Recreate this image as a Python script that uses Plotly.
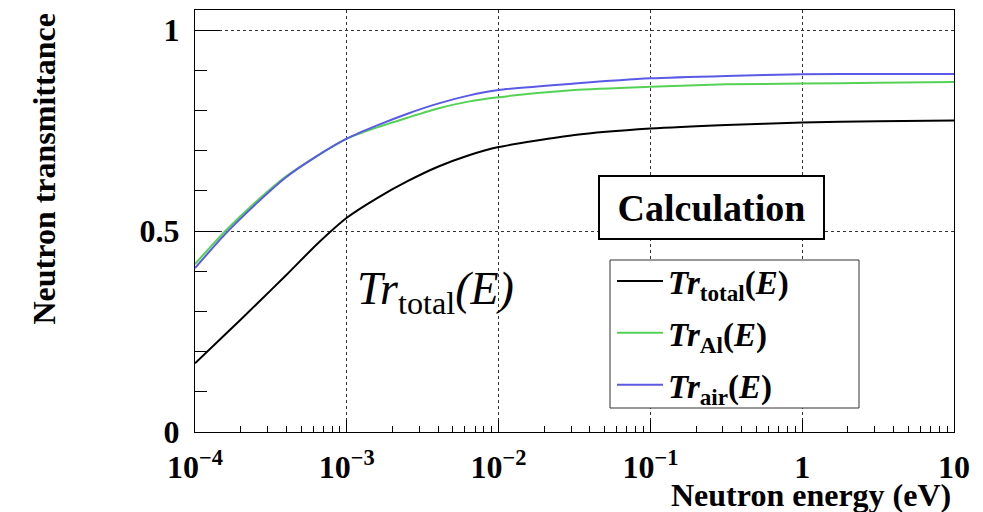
import plotly.graph_objects as go

# ---------------- data ----------------
energy_eV = [1e-4, 1.585e-4, 2.512e-4, 3.981e-4, 6.310e-4, 1e-3, 1.585e-3, 2.512e-3,
             3.981e-3, 6.310e-3, 1e-2, 3.162e-2, 1e-1, 3.162e-1, 1.0, 3.162, 10.0]
tr_total = [0.171, 0.243, 0.316, 0.390, 0.466, 0.533, 0.582, 0.624, 0.660, 0.688,
            0.709, 0.739, 0.755, 0.764, 0.770, 0.773, 0.775]
tr_al = [0.418, 0.500, 0.572, 0.636, 0.686, 0.730, 0.758, 0.782, 0.805, 0.822,
         0.833, 0.851, 0.859, 0.865, 0.867, 0.869, 0.871]
tr_air = [0.408, 0.493, 0.567, 0.634, 0.686, 0.730, 0.763, 0.792, 0.817, 0.837,
          0.851, 0.867, 0.880, 0.886, 0.890, 0.891, 0.891]

series_names = ["<b><i>Tr</i><sub>total</sub>(<i>E</i>)</b>",
                "<b><i>Tr</i><sub>Al</sub>(<i>E</i>)</b>",
                "<b><i>Tr</i><sub>air</sub>(<i>E</i>)</b>"]
series_colors = ["#000000", "#55d255", "#5a5ae6"]

x_tickvals = [1e-4, 1e-3, 1e-2, 1e-1, 1, 10]
x_ticktext = ["10<sup>−4</sup>", "10<sup>−3</sup>", "10<sup>−2</sup>",
              "10<sup>−1</sup>", "1", "10"]
x_minor = [m * 10.0 ** d for d in range(-4, 1) for m in range(2, 10)]
y_tickvals = [0, 0.5, 1]
y_ticktext = ["0", "0.5", "1"]
y_minor = [0.1, 0.2, 0.3, 0.4, 0.6, 0.7, 0.8, 0.9]

FONT = "Liberation Serif, Times New Roman, serif"

# plot area in pixels
L, R, T, B = 195, 954, 10, 432
W, H = 983, 512


def px(xp):
    return (xp - L) / (R - L)


def py(yp):
    return (B - yp) / (B - T)


fig = go.Figure()
for ys, name, col in zip([tr_total, tr_al, tr_air], series_names, series_colors):
    fig.add_trace(go.Scatter(x=energy_eV, y=ys, mode="lines", name=name,
                             line=dict(color=col, width=2, shape="spline", smoothing=0.6),
                             legendgroup=name))

fig.update_layout(
    width=W, height=H,
    margin=dict(l=L, r=W - R, t=T, b=H - B),
    plot_bgcolor="white", paper_bgcolor="white",
    font=dict(family=FONT, color="black"),
    showlegend=True,
    legend=dict(x=px(612), y=py(253), xanchor="left", yanchor="top",
                bgcolor="rgba(0,0,0,0)", borderwidth=0,
                font=dict(family=FONT, size=33, color="black"),
                itemwidth=46, tracegroupgap=6, traceorder="grouped"),
)

fig.update_xaxes(
    type="log", range=[-4, 1],
    tickmode="array", tickvals=x_tickvals, ticktext=x_ticktext,
    ticks="inside", ticklen=12, tickwidth=1, tickcolor="black",
    tickfont=dict(family=FONT, size=32, color="black", weight="bold"),
    ticklabelstandoff=7,
    showgrid=True, gridcolor="#333333", griddash="dot", gridwidth=1,
    minor=dict(tickmode="array", tickvals=x_minor, ticks="inside", ticklen=6,
               tickcolor="black", showgrid=False),
    showline=True, linecolor="black", linewidth=1, mirror=True,
    zeroline=False,
)
fig.update_yaxes(
    range=[0, 1.05],
    tickmode="array", tickvals=y_tickvals, ticktext=y_ticktext,
    ticks="inside", ticklen=25, tickwidth=1, tickcolor="black",
    tickfont=dict(family=FONT, size=32, color="black", weight="bold"),
    ticklabelstandoff=8,
    showgrid=True, gridcolor="#333333", griddash="dot", gridwidth=1,
    minor=dict(tickmode="array", tickvals=y_minor, ticks="inside", ticklen=12,
               tickcolor="black", showgrid=False),
    showline=True, linecolor="black", linewidth=1, mirror=True,
    zeroline=False,
)

# legend frame
fig.add_shape(type="rect", xref="paper", yref="paper",
              x0=px(610), x1=px(859), y0=py(408), y1=py(260),
              line=dict(color="#333333", width=1), fillcolor="white", layer="above")

annotations = [
    # axis titles
    dict(text="<b>Neutron energy (eV)</b>", xref="paper", yref="paper",
         x=px(953), y=py(515), xanchor="right", yanchor="bottom", showarrow=False,
         font=dict(family=FONT, size=32, color="black")),
    dict(text="<b>Neutron transmittance</b>", xref="paper", yref="paper",
         x=px(43), y=py(12), xanchor="center", yanchor="top", textangle=-90,
         showarrow=False, font=dict(family=FONT, size=32, color="black")),
    # Calculation box
    dict(text="<b>Calculation</b>", xref="paper", yref="paper",
         x=px(711.5), y=py(207.5), xanchor="center", yanchor="middle",
         width=223, height=61, borderpad=0, borderwidth=2, bordercolor="black",
         bgcolor="white", showarrow=False,
         font=dict(family=FONT, size=38, color="black")),
    # curve label
    dict(text="<i>Tr</i><sub>total</sub><i>(E)</i>", xref="paper", yref="paper",
         x=px(435), y=py(292), xanchor="center", yanchor="middle",
         showarrow=False, font=dict(family=FONT, size=46, color="black")),
]
fig.update_layout(annotations=annotations)

fig.write_html("out.html")
